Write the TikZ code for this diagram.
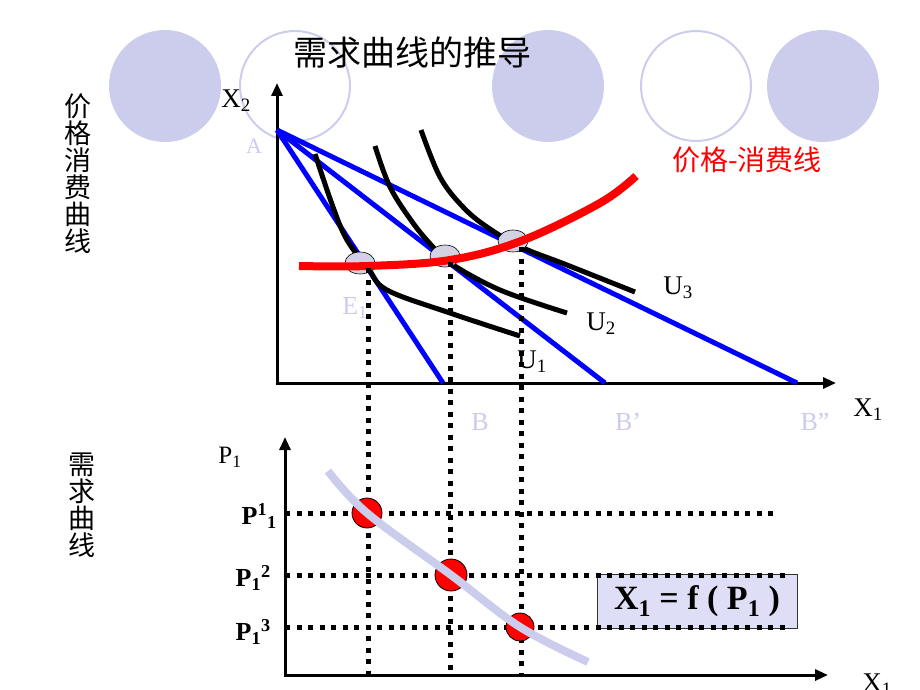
\documentclass[tikz,border=0pt]{standalone}
\usepackage{fontspec}
\setmainfont{Liberation Serif}
\newfontfamily\cjk{Noto Sans CJK SC}
\usetikzlibrary{arrows.meta,shapes.geometric}
\definecolor{lav}{RGB}{204,204,236}
\definecolor{boxfill}{RGB}{222,222,246}
\begin{document}
\begin{tikzpicture}[x=1pt,y=-1pt,
  decofill/.style={circle,minimum size=112pt,inner sep=0pt,fill=lav},
  decoring/.style={circle,minimum size=110pt,inner sep=0pt,draw=lav,line width=2pt},
  axis/.style={line width=3pt,{Triangle[length=13pt,width=11pt]}-{Triangle[length=13pt,width=11pt]}},
  budget/.style={blue,line width=5pt},
  icurve/.style={black,line width=5pt},
  pcc/.style={red,line width=8pt},
  tang/.style={ellipse,draw=black,line width=0.6pt,fill={rgb,255:red,210;green,210;blue,226},minimum width=30pt,minimum height=22pt,inner sep=0pt},
  dots/.style={black,line width=5pt,dash pattern=on 5pt off 6.5pt},
  redpt/.style={circle,draw=black,line width=0.8pt,fill=red,inner sep=0pt},
  lbl/.style={inner sep=0pt,font=\fontsize{27}{27}\selectfont},
  palelbl/.style={inner sep=0pt,text=lav,font=\fontsize{26}{26}\selectfont},
  plbl/.style={inner sep=0pt,anchor=east,font=\fontsize{26}{26}\selectfont\bfseries},
  vtext/.style={inner sep=0pt,align=center,font=\fontsize{27}{27}\selectfont\cjk}
]
\useasboundingbox (0,0) rectangle (920,690);
% decorative circles
\node[decofill] (c1) at (165,86) {};
\node[decoring] (c2) at (295,86) {};
\node[decofill] (c3) at (548,86) {};
\node[decoring] (c4) at (696,86) {};
\node[decofill] (c5) at (823,86) {};
% title
\node[inner sep=0pt,font=\fontsize{34}{34}\selectfont\cjk] (title) at (412,53) {需求曲线的推导};
% side labels
\node[vtext] (vt1) at (78,174) {价\\格\\消\\费\\曲\\线};
\node[vtext] (vt2) at (82,505) {需\\求\\曲\\线};
% upper axes
\coordinate (ytop) at (277,83);
\coordinate (O) at (277,383);
\coordinate (xend) at (836,383);
\draw[axis] (ytop) -- (O) -- (xend);
\node[lbl] (X2) at (236,101) {X\textsubscript{2}};
\node[lbl] (X1) at (868,410) {X\textsubscript{1}};
% budget lines
\coordinate (A) at (277,130);
\coordinate (B) at (443,383);
\coordinate (Bp) at (605,383);
\coordinate (Bpp) at (797,383);
\draw[budget] (A) -- (B);
\draw[budget] (A) -- (Bp);
\draw[budget] (A) -- (Bpp);
% indifference curves
\draw[icurve] plot[smooth,tension=0.6] coordinates {(315,154) (333,207) (347,240) (368,268) (387,290) (450,313) (520,336)};
\draw[icurve] plot[smooth,tension=0.6] coordinates {(375,146) (390,187) (413,223) (433,247) (450,263) (500,290) (567,313)};
\draw[icurve] plot[smooth,tension=0.6] coordinates {(421,130) (440,177) (463,207) (487,227) (521,247) (567,265) (635,292)};
% tangency ellipses
\node[tang] (E1) at (360,263) {};
\node[tang] (E2) at (445,256) {};
\node[tang] (E3) at (513,241) {};
% price consumption curve
\draw[pcc] plot[smooth,tension=0.6] coordinates {(299,266) (368,266) (450,260) (521,241) (600,203) (636,176)};
\node[inner sep=0pt,text=red,font=\fontsize{28}{28}\selectfont\cjk] (pcclbl) at (747,160) {价格-消费线};
% labels upper
\node[lbl] (U3) at (678,288) {U\textsubscript{3}};
\node[lbl] (U2) at (601,324) {U\textsubscript{2}};
\node[lbl] (U1) at (532,362) {U\textsubscript{1}};
\node[palelbl,font=\fontsize{22}{22}\selectfont] (Alb) at (254,146) {A};
\node[palelbl] (E1lb) at (355,308) {E\textsubscript{1}};
\node[palelbl] (Blb) at (480,422) {B};
\node[palelbl] (Bplb) at (628,422) {B’};
\node[palelbl] (Bpplb) at (815,422) {B”};
% lower axes
\coordinate (ytop2) at (285,437);
\coordinate (O2) at (285,675);
\coordinate (xend2) at (828,675);
% projection lines
\coordinate (t1) at (368,268);
\coordinate (t2) at (450,262);
\coordinate (t3) at (521,247);
\coordinate (d1) at (368,675);
\coordinate (d2) at (450,675);
\coordinate (d3) at (521,675);
% formula box
\node[draw=black!80,line width=0.8pt,fill=boxfill,minimum width=200pt,minimum height=54pt,inner sep=0pt,font=\fontsize{34}{34}\selectfont\bfseries] (fbox) at (697,601) {X\textsubscript{1} = f ( P\textsubscript{1} )};
\draw[dots] (t1) -- (d1);
\draw[dots] (t2) -- (d2);
\draw[dots] (t3) -- (d3);
\coordinate (h1a) at (285,513);
\coordinate (h1b) at (775,513);
\coordinate (h2a) at (285,575);
\coordinate (h2b) at (786,575);
\coordinate (h3a) at (285,627);
\coordinate (h3b) at (786,627);
\draw[dots] (h1a) -- (h1b);
\draw[dots] (h2a) -- (h2b);
\draw[dots] (h3a) -- (h3b);
\draw[axis] (ytop2) -- (O2) -- (xend2);
\node[lbl,font=\fontsize{25}{25}\selectfont] (P1) at (230,457) {P\textsubscript{1}};
\node[lbl] (X1b) at (877,685) {X\textsubscript{1}};
% red points
\node[redpt,minimum size=30pt] (q1) at (367,513) {};
\node[redpt,minimum size=32pt] (q2) at (451,575) {};
\node[redpt,minimum size=28pt] (q3) at (520,627) {};
% demand curve
\draw[lav,line width=8pt] plot[smooth,tension=0.6] coordinates {(328,471) (367,513) (451,575) (520,627) (588,662)};
% price labels
\node[plbl] (p11) at (277,516) {P\textsuperscript{1}\textsubscript{1}};
\node[plbl] (p12) at (271,578) {P\textsubscript{1}\textsuperscript{2}};
\node[plbl] (p13) at (271,632) {P\textsubscript{1}\textsuperscript{3}};
\end{tikzpicture}
\end{document}
